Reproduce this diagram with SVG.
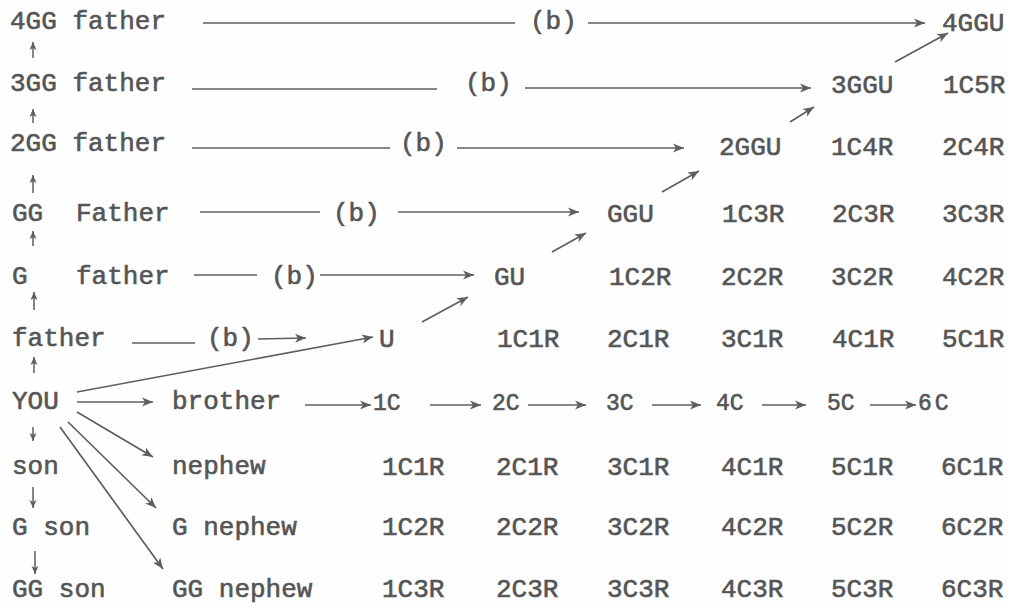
<svg xmlns="http://www.w3.org/2000/svg" width="1009" height="606" viewBox="0 0 1009 606">
<defs>
<style>
text{font-family:"Liberation Mono","DejaVu Sans Mono",monospace;font-size:26px;fill:#555555;stroke:#555555;stroke-width:0.6;}
.s{font-size:23px;}
.ln{stroke:#5e5e5e;stroke-width:1.7;fill:none;}
.ar{stroke:#5e5e5e;stroke-width:1.7;fill:none;marker-end:url(#ah);}
.sa{stroke:#5e5e5e;stroke-width:1.5;fill:none;marker-end:url(#sh);}
</style>
<marker id="ah" markerUnits="userSpaceOnUse" markerWidth="12" markerHeight="10" refX="11" refY="5" orient="auto">
<path d="M0,0.5 L11,5 L0,9.5 L3,5 Z" fill="#5e5e5e"/>
</marker>
<marker id="sh" markerUnits="userSpaceOnUse" markerWidth="9" markerHeight="8" refX="8" refY="4" orient="auto">
<path d="M0,0.5 L8,4 L0,7.5 L2,4 Z" fill="#5e5e5e"/>
</marker>
</defs>
<rect width="1009" height="606" fill="#fefefe"/>

<g id="connectors">
<path class="sa" d="M33,58 L33,42"/>
<path class="sa" d="M33,123 L33,109"/>
<path class="sa" d="M33,193 L33,175"/>
<path class="sa" d="M33,246 L33,231"/>
<path class="sa" d="M34,310 L34,292"/>
<path class="sa" d="M34,373 L34,357"/>
<path class="sa" d="M33,427 L33,441"/>
<path class="sa" d="M33,487 L33,508"/>
<path class="sa" d="M35,551 L35,574"/>
<path class="ln" d="M203,23 L515,23"/>
<text x="530" y="29">(b)</text>
<path class="ar" d="M588,23 L925,23"/>
<path class="ln" d="M192,89 L437,89"/>
<text x="465" y="91">(b)</text>
<path class="ar" d="M525,88 L811,88"/>
<path class="ln" d="M192,148 L390,148"/>
<text x="400" y="151">(b)</text>
<path class="ar" d="M457,148 L684,148"/>
<path class="ln" d="M200,212 L320,212"/>
<text x="333" y="221">(b)</text>
<path class="ar" d="M398,212 L579,212"/>
<path class="ln" d="M194,275 L257,275"/>
<text x="271" y="284">(b)</text>
<path class="ar" d="M320,275 L474,275"/>
<path class="ln" d="M132,343 L195,343"/>
<text x="207" y="346">(b)</text>
<path class="ar" d="M258,339 L306,338"/>
<path class="ar" d="M77,402 L153,402"/>
<path class="ar" d="M305,405 L371,405"/>
<path class="ar" d="M430,405 L481,405"/>
<path class="ar" d="M528,405 L586,405"/>
<path class="ar" d="M652,405 L701,405"/>
<path class="ar" d="M762,405 L806,405"/>
<path class="ar" d="M870,405 L916,405"/>
<path class="ar" d="M895,62 L948,33"/>
<path class="ar" d="M790,122 L814,107"/>
<path class="ar" d="M662,192 L699,171"/>
<path class="ar" d="M552,252 L586,233"/>
<path class="ar" d="M422,322 L468,297"/>
<path class="ar" d="M77,392 L373,337"/>
<path class="ar" d="M77,412 L153,457"/>
<path class="ar" d="M68,422 L156,508"/>
<path class="ar" d="M60,427 L163,569"/>
</g>

<g id="n-4gg-father"><text x="10" y="29">4GG father</text></g>
<g id="n-4ggu"><text x="942" y="31">4GGU</text></g>

<g id="n-3gg-father"><text x="10" y="91">3GG father</text></g>
<g id="n-3ggu"><text x="831" y="93">3GGU</text></g>
<g id="n-1c5r"><text x="943" y="93">1C5R</text></g>

<g id="n-2gg-father"><text x="10" y="151">2GG father</text></g>
<g id="n-2ggu"><text x="719" y="155">2GGU</text></g>
<g id="n-1c4r"><text x="831" y="155">1C4R</text></g>
<g id="n-2c4r"><text x="942" y="155">2C4R</text></g>

<g id="n-gg-father"><text x="12" y="221">GG</text><text x="76" y="221">Father</text></g>
<g id="n-ggu"><text x="607" y="222">GGU</text></g>
<g id="n-1c3r-a"><text x="722" y="222">1C3R</text></g>
<g id="n-2c3r-a"><text x="832" y="222">2C3R</text></g>
<g id="n-3c3r-a"><text x="942" y="222">3C3R</text></g>

<g id="n-g-father"><text x="12" y="284">G</text><text x="76" y="284">father</text></g>
<g id="n-gu"><text x="494" y="285">GU</text></g>
<g id="n-1c2r-a"><text x="609" y="285">1C2R</text></g>
<g id="n-2c2r-a"><text x="721" y="285">2C2R</text></g>
<g id="n-3c2r-a"><text x="831" y="285">3C2R</text></g>
<g id="n-4c2r-a"><text x="942" y="285">4C2R</text></g>

<g id="n-father"><text x="12" y="346">father</text></g>
<g id="n-u"><text x="379" y="347">U</text></g>
<g id="n-1c1r-a"><text x="497" y="347">1C1R</text></g>
<g id="n-2c1r-a"><text x="607" y="347">2C1R</text></g>
<g id="n-3c1r-a"><text x="721" y="347">3C1R</text></g>
<g id="n-4c1r-a"><text x="832" y="347">4C1R</text></g>
<g id="n-5c1r-a"><text x="942" y="347">5C1R</text></g>

<g id="n-you"><text x="12" y="409">YOU</text></g>
<g id="n-brother"><text x="172" y="409">brother</text></g>
<g id="n-1c"><text class="s" x="373" y="410">1C</text></g>
<g id="n-2c"><text class="s" x="492" y="410">2C</text></g>
<g id="n-3c"><text class="s" x="606" y="410">3C</text></g>
<g id="n-4c"><text class="s" x="716" y="410">4C</text></g>
<g id="n-5c"><text class="s" x="827" y="410">5C</text></g>
<g id="n-6c"><text class="s" x="918" y="410" letter-spacing="3">6C</text></g>

<g id="n-son"><text x="12" y="474">son</text></g>
<g id="n-nephew"><text x="172" y="474">nephew</text></g>
<g id="n-1c1r-b"><text x="382" y="475">1C1R</text></g>
<g id="n-2c1r-b"><text x="496" y="475">2C1R</text></g>
<g id="n-3c1r-b"><text x="607" y="475">3C1R</text></g>
<g id="n-4c1r-b"><text x="721" y="475">4C1R</text></g>
<g id="n-5c1r-b"><text x="831" y="475">5C1R</text></g>
<g id="n-6c1r-b"><text x="941" y="475">6C1R</text></g>

<g id="n-g-son"><text x="12" y="535">G son</text></g>
<g id="n-g-nephew"><text x="172" y="535">G nephew</text></g>
<g id="n-1c2r-b"><text x="382" y="535">1C2R</text></g>
<g id="n-2c2r-b"><text x="496" y="535">2C2R</text></g>
<g id="n-3c2r-b"><text x="607" y="535">3C2R</text></g>
<g id="n-4c2r-b"><text x="721" y="535">4C2R</text></g>
<g id="n-5c2r-b"><text x="831" y="535">5C2R</text></g>
<g id="n-6c2r-b"><text x="941" y="535">6C2R</text></g>

<g id="n-gg-son"><text x="12" y="597">GG son</text></g>
<g id="n-gg-nephew"><text x="172" y="597">GG nephew</text></g>
<g id="n-1c3r-b"><text x="382" y="597">1C3R</text></g>
<g id="n-2c3r-b"><text x="496" y="597">2C3R</text></g>
<g id="n-3c3r-b"><text x="607" y="597">3C3R</text></g>
<g id="n-4c3r-b"><text x="721" y="597">4C3R</text></g>
<g id="n-5c3r-b"><text x="831" y="597">5C3R</text></g>
<g id="n-6c3r-b"><text x="941" y="597">6C3R</text></g>
</svg>
